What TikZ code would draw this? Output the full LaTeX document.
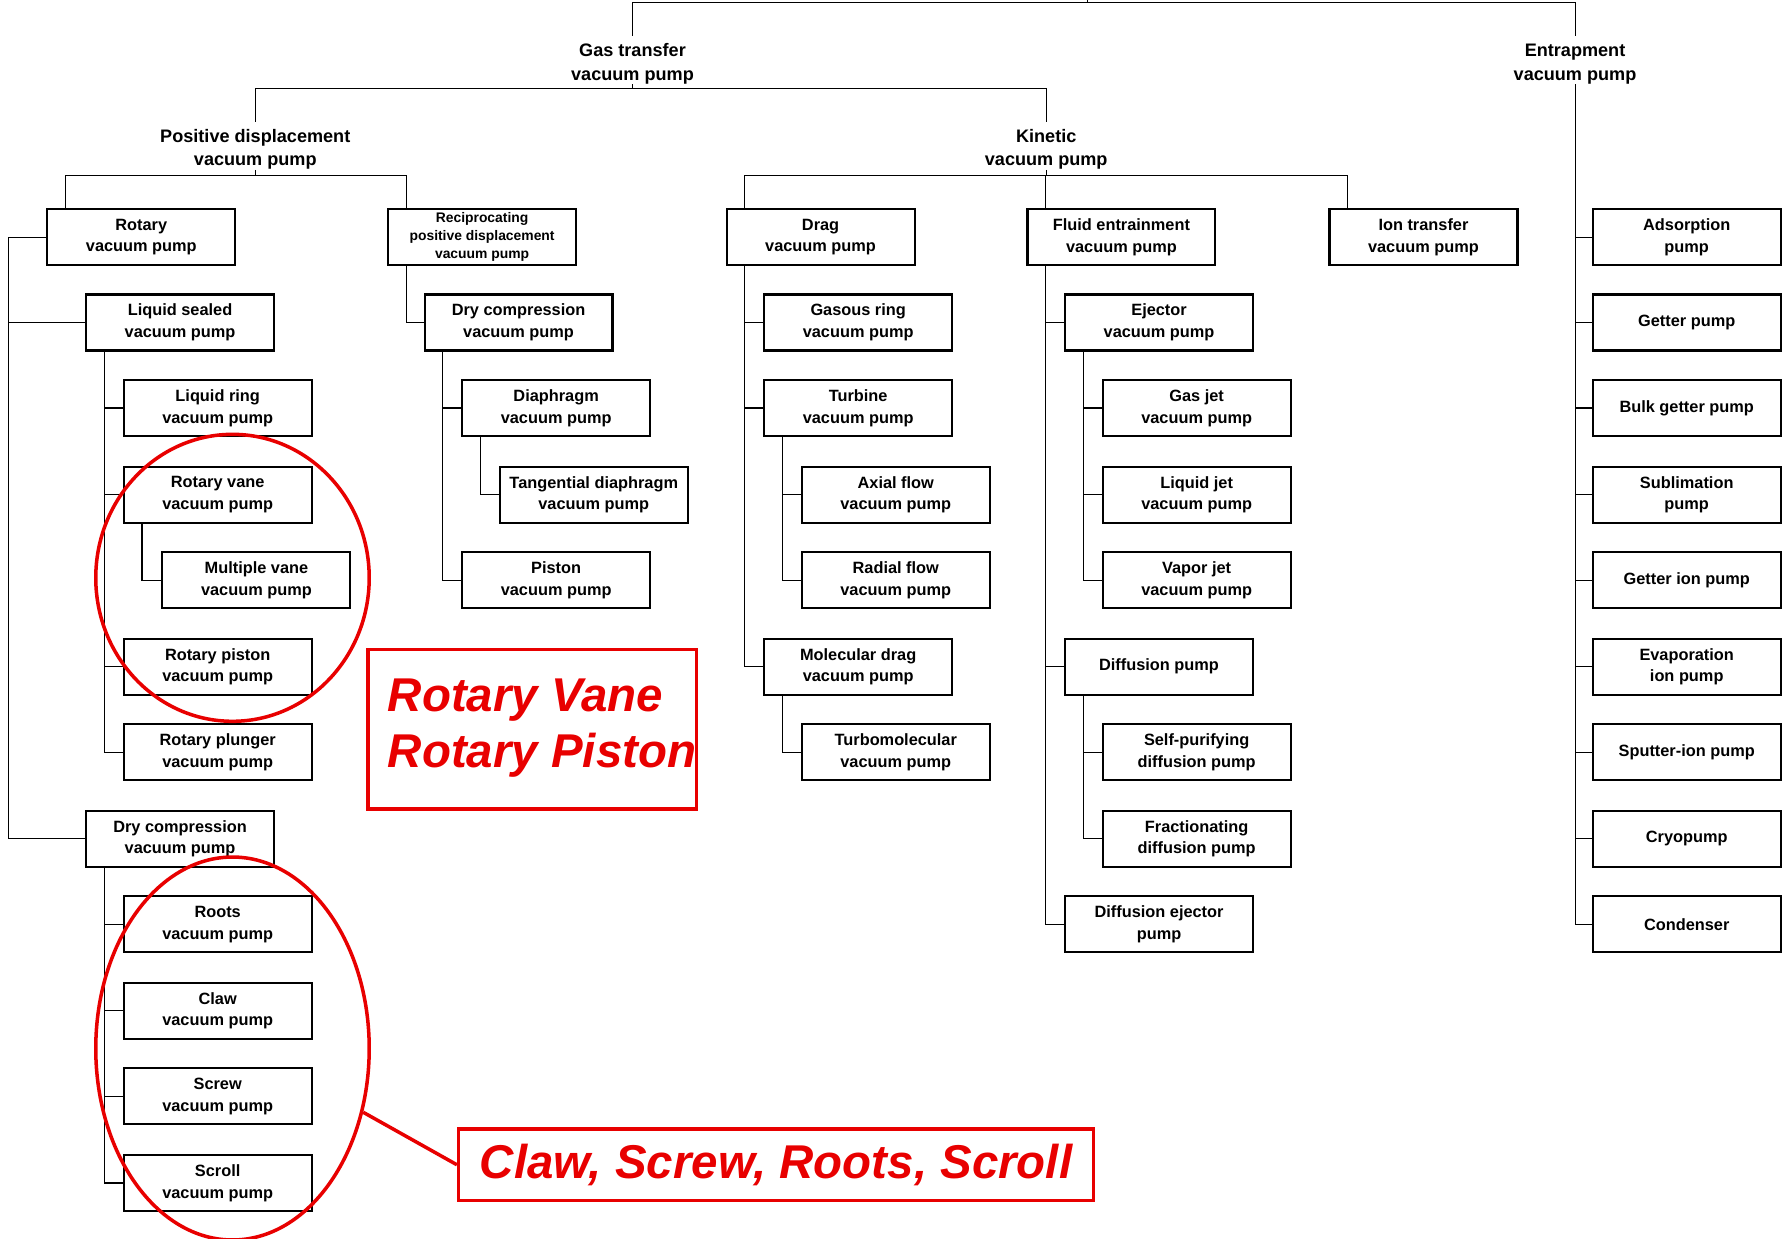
\documentclass[tikz,border=0pt]{standalone}
\usepackage{fontspec}
\setmainfont{Liberation Sans}
\usetikzlibrary{shapes.geometric}
\definecolor{markred}{RGB}{232,0,0}
\tikzset{
  pumpbox/.style={draw, line width=1.2pt, fill=white, minimum width=3.76cm, minimum height=1.12cm,
    inner sep=0pt, align=center, font=\fontsize{9.3}{12.3}\selectfont\bfseries},
  smallbox/.style={pumpbox, font=\fontsize{7.9}{10.4}\selectfont\bfseries},
  grouplabel/.style={inner sep=0pt, align=center, font=\fontsize{10.3}{13.5}\selectfont\bfseries},
  link/.style={line width=0.6pt},
  markline/.style={draw=markred, line width=2pt},
  calltext/.style={text=markred, inner sep=0pt, font=\fontsize{27}{31.8}\selectfont\bfseries\itshape},
}

\begin{document}
\begin{tikzpicture}[x=0.022794cm, y=-0.022794cm]
% Sheet size, one unit is one pixel of the original sheet
\useasboundingbox (0,0) rectangle (1568,1087);
\def\stem{17} % vertical lines sit this far right of a box's left side

% Group labels
\node[grouplabel] (gastrans) at (555,56) {Gas transfer\\vacuum pump};
\node[grouplabel] (entrap) at (1382,56) {Entrapment\\vacuum pump};
\node[grouplabel] (posdisp) at (224,131) {Positive displacement\\vacuum pump};
\node[grouplabel] (kinetic) at (918,131) {Kinetic\\vacuum pump};

% Positive displacement branch
\node[pumpbox] (rotary) at (124,208) {Rotary\\vacuum pump};
\node[pumpbox] (liqsealed) at (158,283) {Liquid sealed\\vacuum pump};
\node[pumpbox] (liqring) at (191,358) {Liquid ring\\vacuum pump};
\node[pumpbox] (rotvane) at (191,434) {Rotary vane\\vacuum pump};
\node[pumpbox] (multivane) at (225,509) {Multiple vane\\vacuum pump};
\node[pumpbox] (rotpiston) at (191,585) {Rotary piston\\vacuum pump};
\node[pumpbox] (rotplunger) at (191,660) {Rotary plunger\\vacuum pump};
\node[pumpbox] (drycompL) at (158,736) {Dry compression\\vacuum pump};
\node[pumpbox] (roots) at (191,811) {Roots\\vacuum pump};
\node[pumpbox] (claw) at (191,887) {Claw\\vacuum pump};
\node[pumpbox] (screw) at (191,962) {Screw\\vacuum pump};
\node[pumpbox] (scroll) at (191,1038) {Scroll\\vacuum pump};
\node[smallbox] (recip) at (423,208) {Reciprocating\\positive displacement\\vacuum pump};
\node[pumpbox] (drycompM) at (455,283) {Dry compression\\vacuum pump};
\node[pumpbox] (diaphragm) at (488,358) {Diaphragm\\vacuum pump};
\node[pumpbox] (tangdia) at (521,434) {Tangential diaphragm\\vacuum pump};
\node[pumpbox] (piston) at (488,509) {Piston\\vacuum pump};

% Kinetic branch
\node[pumpbox] (drag) at (720,208) {Drag\\vacuum pump};
\node[pumpbox] (gasring) at (753,283) {Gasous ring\\vacuum pump};
\node[pumpbox] (turbine) at (753,358) {Turbine\\vacuum pump};
\node[pumpbox] (axial) at (786,434) {Axial flow\\vacuum pump};
\node[pumpbox] (radial) at (786,509) {Radial flow\\vacuum pump};
\node[pumpbox] (moldrag) at (753,585) {Molecular drag\\vacuum pump};
\node[pumpbox] (turbomol) at (786,660) {Turbomolecular\\vacuum pump};
\node[pumpbox] (fluid) at (984,208) {Fluid entrainment\\vacuum pump};
\node[pumpbox] (ejector) at (1017,283) {Ejector\\vacuum pump};
\node[pumpbox] (gasjet) at (1050,358) {Gas jet\\vacuum pump};
\node[pumpbox] (liqjet) at (1050,434) {Liquid jet\\vacuum pump};
\node[pumpbox] (vaporjet) at (1050,509) {Vapor jet\\vacuum pump};
\node[pumpbox] (diffusion) at (1017,585) {Diffusion pump};
\node[pumpbox] (selfpur) at (1050,660) {Self-purifying\\diffusion pump};
\node[pumpbox] (fraction) at (1050,736) {Fractionating\\diffusion pump};
\node[pumpbox] (diffej) at (1017,811) {Diffusion ejector\\pump};
\node[pumpbox] (iontrans) at (1249,208) {Ion transfer\\vacuum pump};

% Entrapment branch
\node[pumpbox] (adsorp) at (1480,208) {Adsorption\\pump};
\node[pumpbox] (getter) at (1480,283) {Getter pump};
\node[pumpbox] (bulkget) at (1480,358) {Bulk getter pump};
\node[pumpbox] (sublim) at (1480,434) {Sublimation\\pump};
\node[pumpbox] (getterion) at (1480,509) {Getter ion pump};
\node[pumpbox] (evapion) at (1480,585) {Evaporation\\ion pump};
\node[pumpbox] (sputter) at (1480,660) {Sputter-ion pump};
\node[pumpbox] (cryo) at (1480,736) {Cryopump};
\node[pumpbox] (condenser) at (1480,811) {Condenser};

% Upper part of the tree
\coordinate (root) at (954,-20);
\coordinate (topbar) at (954,2);
\coordinate (gtbar) at (555,78);
\coordinate (pdbar) at (224,154);
\coordinate (kbar) at (918,154);
\draw[link] (root) -- (topbar);
\draw[link] (topbar) -| ([yshift=4pt]gastrans.north);
\draw[link] (topbar) -| ([yshift=4pt]entrap.north);
\draw[link] (gastrans.south) -- (gtbar);
\draw[link] (gtbar) -| ([yshift=4pt]posdisp.north);
\draw[link] (gtbar) -| ([yshift=4pt]kinetic.north);
\draw[link] (posdisp.south) -- (pdbar);
\draw[link] (kinetic.south) -- (kbar);
\foreach \b in {rotary,recip}
  \draw[link] (\b.north west) ++(\stem,0) |- (pdbar);
\foreach \b in {drag,fluid,iontrans}
  \draw[link] (\b.north west) ++(\stem,0) |- (kbar);

% Lower part of the tree
\foreach \b in {liqsealed,drycompL}
  \draw[link] (rotary.west) -- ++(-33,0) |- (\b.west);
\foreach \b in {liqring,rotvane,rotpiston,rotplunger}
  \draw[link] (liqsealed.south west) ++(\stem,0) |- (\b.west);
\draw[link] (rotvane.south west) ++(\stem,0) |- (multivane.west);
\foreach \b in {roots,claw,screw,scroll}
  \draw[link] (drycompL.south west) ++(\stem,0) |- (\b.west);
\draw[link] (recip.south west) ++(\stem,0) |- (drycompM.west);
\foreach \b in {diaphragm,piston}
  \draw[link] (drycompM.south west) ++(\stem,0) |- (\b.west);
\draw[link] (diaphragm.south west) ++(\stem,0) |- (tangdia.west);
\foreach \b in {gasring,turbine,moldrag}
  \draw[link] (drag.south west) ++(\stem,0) |- (\b.west);
\foreach \b in {axial,radial}
  \draw[link] (turbine.south west) ++(\stem,0) |- (\b.west);
\draw[link] (moldrag.south west) ++(\stem,0) |- (turbomol.west);
\foreach \b in {ejector,diffusion,diffej}
  \draw[link] (fluid.south west) ++(\stem,0) |- (\b.west);
\foreach \b in {gasjet,liqjet,vaporjet}
  \draw[link] (ejector.south west) ++(\stem,0) |- (\b.west);
\foreach \b in {selfpur,fraction}
  \draw[link] (diffusion.south west) ++(\stem,0) |- (\b.west);
\foreach \b in {adsorp,getter,bulkget,sublim,getterion,evapion,sputter,cryo,condenser}
  \draw[link] (entrap.south) |- (\b.west);

% Red marks
\node[ellipse, markline, minimum width=5.47cm, minimum height=5.74cm, inner sep=0pt] (vanering) at (204,507) {};
\node[ellipse, markline, minimum width=5.47cm, minimum height=7.66cm, inner sep=0pt] (dryring) at (204,920) {};
\node[markline, minimum width=6.565cm, minimum height=3.19cm] (vanebox) at (467,640) {};
\node[calltext, anchor=west, align=left] (vanetext) at (340,639) {Rotary Vane\\Rotary Piston};
\node[calltext, markline, minimum width=12.70cm, minimum height=1.436cm] (drybox) at (681,1022) {Claw, Screw, Roots, Scroll};
\draw[markline] (dryring.-26) -- (drybox.west);
\end{tikzpicture}
\end{document}
